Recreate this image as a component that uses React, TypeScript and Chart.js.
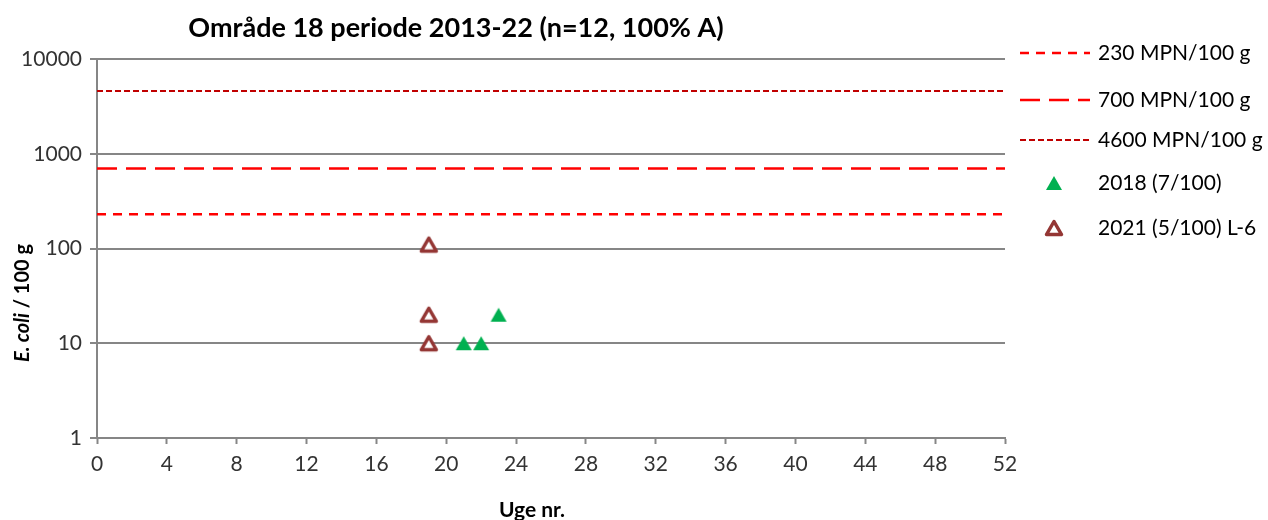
import React, { useEffect, useRef } from "react";
import { Chart, registerables } from "chart.js";

Chart.register(...registerables);

// Limit values (MPN per 100 g)
const limitValues = [230, 700, 4600];
const limitLabels = ["230 MPN/100 g", "700 MPN/100 g", "4600 MPN/100 g"];

// Samples: week number and E. coli per 100 g
const weeks2018 = [21, 22, 23];
const values2018 = [10, 10, 20];
const weeks2021 = [19, 19, 19];
const values2021 = [110, 20, 10];

const seriesLabels = ["2018 (7/100)", "2021 (5/100) L-6"];
const yTickValues = [1, 10, 100, 1000, 10000];
const xMin = 0;
const xMax = 52;

const FONT = "Lato, 'Open Sans', sans-serif";
const GRAY = "#868686";
const TICK_TEXT = "#333333";
const RED = "#ff0000";
const DARK_RED = "#c00000";
const GREEN = "#00b050";
const BROWN = "#943634";

const limitStyles = [
  { color: RED, dash: [9, 7], width: 2.5 },
  { color: RED, dash: [20, 9], width: 2.5 },
  { color: DARK_RED, dash: [6, 3], width: 2 },
];

// Triangle marker drawn centred in its own small canvas
function triangleMarker(fill: string, stroke: string, lineWidth: number, half: number, h: number): HTMLCanvasElement {
  const size = 24;
  const c = document.createElement("canvas");
  c.width = size;
  c.height = size;
  const g = c.getContext("2d")!;
  const cx = size / 2;
  const cy = size / 2;
  g.beginPath();
  g.moveTo(cx, cy - h / 2);
  g.lineTo(cx + half, cy + h / 2);
  g.lineTo(cx - half, cy + h / 2);
  g.closePath();
  g.fillStyle = fill;
  g.fill();
  if (lineWidth > 0) {
    g.strokeStyle = stroke;
    g.lineWidth = lineWidth;
    g.lineJoin = "round";
    g.stroke();
  }
  return c;
}

export default function App() {
  const canvasRef = useRef<HTMLCanvasElement | null>(null);

  useEffect(() => {
    if (!canvasRef.current) return;

    const greenTri = triangleMarker(GREEN, GREEN, 0, 8, 14);
    const hollowTri = triangleMarker("#ffffff", BROWN, 3.5, 7.5, 13);

    const overlayPlugin = {
      id: "overlay",
      afterDraw(chart: any) {
        const ctx = chart.ctx as CanvasRenderingContext2D;
        ctx.save();
        // title
        ctx.fillStyle = "#000";
        ctx.font = `bold 27px ${FONT}`;
        ctx.textAlign = "center";
        ctx.textBaseline = "middle";
        ctx.fillText("Område 18 periode 2013-22 (n=12, 100% A)", 456, 28);

        // x title
        ctx.font = `bold 21px ${FONT}`;
        ctx.fillText("Uge nr.", 532, 510);

        // y title (rotated, partly italic)
        ctx.save();
        ctx.translate(23, 303);
        ctx.rotate(-Math.PI / 2);
        const part1 = "E. coli";
        const part2 = " / 100 g";
        ctx.font = `italic bold 20px ${FONT}`;
        const w1 = ctx.measureText(part1).width;
        ctx.font = `bold 20px ${FONT}`;
        const w2 = ctx.measureText(part2).width;
        const x0 = -(w1 + w2) / 2;
        ctx.textAlign = "left";
        ctx.font = `italic bold 20px ${FONT}`;
        ctx.fillText(part1, x0, 0);
        ctx.font = `bold 20px ${FONT}`;
        ctx.fillText(part2, x0 + w1, 0);
        ctx.restore();

        // legend
        const rows = [53, 100, 140, 183, 228];
        ctx.textAlign = "left";
        ctx.textBaseline = "middle";
        ctx.font = `21px ${FONT}`;
        limitLabels.forEach((label, i) => {
          const s = limitStyles[i];
          ctx.strokeStyle = s.color;
          ctx.lineWidth = s.width;
          ctx.setLineDash(s.dash);
          ctx.beginPath();
          ctx.moveTo(1020, rows[i]);
          ctx.lineTo(1090, rows[i]);
          ctx.stroke();
          ctx.setLineDash([]);
          ctx.fillStyle = "#000";
          ctx.fillText(label, 1098, rows[i]);
        });
        ctx.drawImage(greenTri, 1054 - 12, rows[3] - 12);
        ctx.drawImage(hollowTri, 1054 - 12, rows[4] - 12);
        ctx.fillStyle = "#000";
        ctx.fillText(seriesLabels[0], 1098, rows[3]);
        ctx.fillText(seriesLabels[1], 1098, rows[4]);
        ctx.restore();
      },
    };

    const limitDatasets = limitValues.map((v, i) => ({
      type: "line" as const,
      label: limitLabels[i],
      data: [
        { x: xMin, y: v },
        { x: xMax, y: v },
      ],
      borderColor: limitStyles[i].color,
      borderWidth: limitStyles[i].width,
      borderDash: limitStyles[i].dash,
      pointRadius: 0,
      fill: false,
      showLine: true,
      order: 2,
    }));

    const chart = new Chart(canvasRef.current, {
      type: "scatter",
      data: {
        datasets: [
          ...limitDatasets,
          {
            label: seriesLabels[0],
            data: weeks2018.map((w, i) => ({ x: w, y: values2018[i] })),
            pointStyle: greenTri,
            pointRadius: 8,
            order: 1,
          },
          {
            label: seriesLabels[1],
            data: weeks2021.map((w, i) => ({ x: w, y: values2021[i] })),
            pointStyle: hollowTri,
            pointRadius: 8,
            order: 0,
          },
        ] as any,
      },
      options: {
        animation: false,
        responsive: false,
        maintainAspectRatio: false,
        layout: { padding: { left: 0, right: 263, top: 59, bottom: 0 } },
        plugins: {
          legend: { display: false },
          title: { display: false },
          tooltip: { enabled: false },
        },
        scales: {
          x: {
            type: "linear",
            min: xMin,
            max: xMax,
            ticks: {
              stepSize: 4,
              color: TICK_TEXT,
              font: { family: FONT, size: 21 },
              padding: 8,
              maxRotation: 0,
            },
            grid: {
              drawOnChartArea: false,
              drawTicks: true,
              tickLength: 6,
              tickWidth: 2,
              tickColor: GRAY,
            },
            border: { color: GRAY, width: 2 },
            afterFit(scale: any) {
              scale.height = 82;
            },
          },
          y: {
            type: "logarithmic",
            min: 1,
            max: 10000,
            afterBuildTicks(scale: any) {
              scale.ticks = yTickValues.map((v) => ({ value: v, major: true }));
            },
            ticks: {
              color: TICK_TEXT,
              font: { family: FONT, size: 21 },
              padding: 8,
              callback: (v: any) => String(v),
            },
            grid: {
              color: GRAY,
              lineWidth: 2,
              drawTicks: true,
              tickLength: 7,
              tickColor: GRAY,
            },
            border: { color: GRAY, width: 2 },
            afterFit(scale: any) {
              scale.width = 97;
            },
          },
        },
      } as any,
      plugins: [overlayPlugin],
    });
    return () => chart.destroy();
  }, []);

  return (
    <div style={{ position: "fixed", left: 0, top: 0, width: 1268, height: 520, background: "#fff" }}>
      <canvas ref={canvasRef} width={1268} height={520} style={{ display: "block" }} />
    </div>
  );
}
